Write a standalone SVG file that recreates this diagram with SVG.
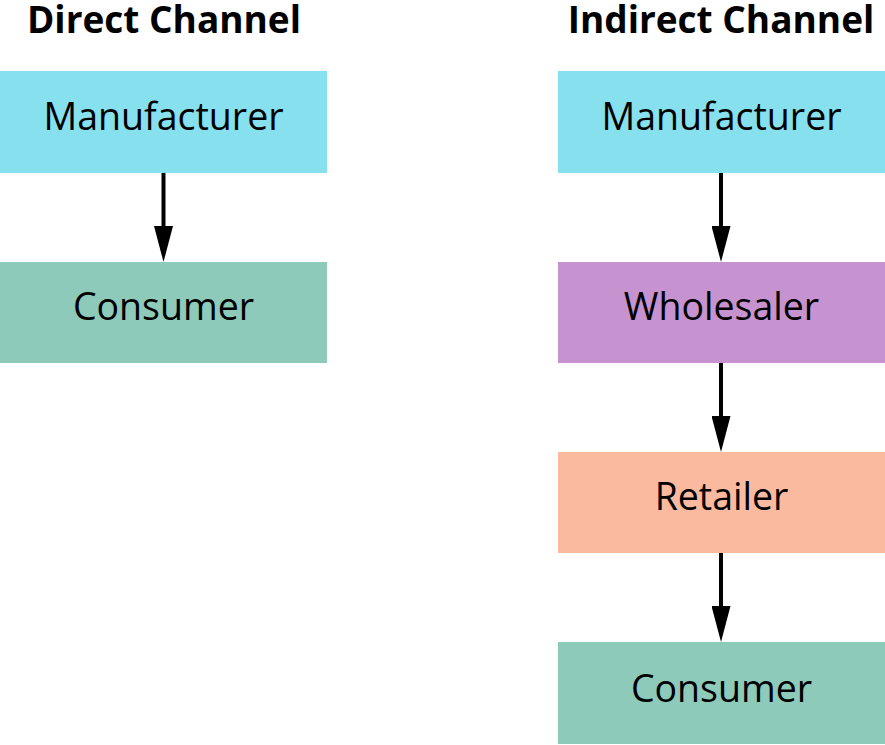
<svg xmlns="http://www.w3.org/2000/svg" width="885" height="745" viewBox="0 0 885 745">
<defs>
<marker id="ah" markerWidth="36" markerHeight="19" refX="0" refY="9.5" orient="auto" markerUnits="userSpaceOnUse" viewBox="0 0 36 19">
<path d="M0,0 L36,9.5 L0,19 Z" fill="#000"/>
</marker>
<style>
text{font-family:"Open Sans","Noto Sans","Liberation Sans",sans-serif;text-anchor:middle;fill:#000}
.t{font-weight:bold;font-size:37px}
.l{font-size:37.5px}
.c{stroke:#000;stroke-width:4;fill:none;marker-end:url(#ah)}
.man{fill:#86E0EE}.con{fill:#8DCABA}.who{fill:#C692D0}.ret{fill:#F9BAA0}
</style>
</defs>
<rect width="885" height="745" fill="#fff"/>
<text class="t" x="164" y="33">Direct Channel</text>
<text class="t" x="721" y="33">Indirect Channel</text>
<g id="d-manufacturer"><rect class="man" x="0" y="71" width="327" height="102"/><text class="l" x="163.5" y="130">Manufacturer</text></g>
<g id="d-consumer"><rect class="con" x="0" y="262" width="327" height="101"/><text class="l" x="163.5" y="320">Consumer</text></g>
<g id="i-manufacturer"><rect class="man" x="558" y="71" width="327" height="102"/><text class="l" x="721.5" y="130">Manufacturer</text></g>
<g id="i-wholesaler"><rect class="who" x="558" y="262" width="327" height="101"/><text class="l" x="721.5" y="320">Wholesaler</text></g>
<g id="i-retailer"><rect class="ret" x="558" y="452" width="327" height="101"/><text class="l" x="721.5" y="510">Retailer</text></g>
<g id="i-consumer"><rect class="con" x="558" y="642" width="327" height="102"/><text class="l" x="721.5" y="702">Consumer</text></g>
<g id="connectors">
<line class="c" x1="163.5" y1="173" x2="163.5" y2="226"/>
<line class="c" x1="721" y1="173" x2="721" y2="226"/>
<line class="c" x1="721" y1="363" x2="721" y2="416"/>
<line class="c" x1="721" y1="553" x2="721" y2="606"/>
</g>
</svg>
